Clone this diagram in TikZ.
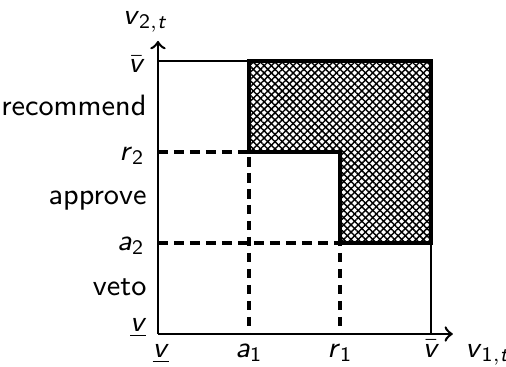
\documentclass[tikz,border=0pt]{standalone}
\usepackage{amsmath}
\usepackage{tikz}
\usetikzlibrary{patterns.meta}
\newcommand{\sfv}{\textsf{\textit{v}}}
\newcommand{\vhi}{$\bar{\mbox{\sfv}}$}
\newcommand{\vlo}{\underline{\sfv}}

\begin{document}
\begin{tikzpicture}[
  x=1cm, y=1cm,
  lbl/.style={font=\fontsize{9.2}{11}\sffamily, inner sep=0pt},
  axis/.style={->, line width=0.8pt},
  thinbox/.style={line width=0.5pt},
  cut/.style={line width=1pt, dash pattern=on 3pt off 2pt},
  hatchA/.style={pattern={Lines[angle=45, distance=1.6pt, line width=0.45pt]}},
  hatchB/.style={pattern={Lines[angle=-45, distance=1.6pt, line width=0.45pt]}},
  region/.style={line width=1.3pt}
]
\useasboundingbox (-1.736,-0.352) rectangle (3.824,3.67);
\coordinate (o) at (0,0);
\coordinate (xend) at (3.24,0);
\coordinate (yend) at (0,3.22);
\coordinate (a1) at (1,0);
\coordinate (r1) at (2,0);
\coordinate (a2) at (0,1);
\coordinate (r2) at (0,2);
\coordinate (hi1) at (3,0);
\coordinate (hi2) at (0,3);

% acceptance region
\fill[hatchA] (1,3) -- (3,3) -- (3,1) -- (2,1) -- (2,2) -- (1,2) -- cycle;
\fill[hatchB] (1,3) -- (3,3) -- (3,1) -- (2,1) -- (2,2) -- (1,2) -- cycle;
\draw[region] (1,3) -- (3,3) -- (3,1) -- (2,1) -- (2,2) -- (1,2) -- cycle;

% box edges
\draw[thinbox] (hi2) -- (1,3);
\draw[thinbox] (hi1) -- (3,1);

% thresholds
\draw[cut] (r2) -- (1,2) -- (a1);
\draw[cut] (a2) -- (2,1) -- (r1);

% axes
\draw[axis] (o) -- (xend);
\draw[axis] (o) -- (yend);

% axis labels
\node[lbl, anchor=base] (ylab) at (-0.14,3.4) {\sfv$_{\textsf{2},\textsf{\textit{t}}}$};
\node[lbl, anchor=base west] (xlab) at (3.37,-0.253) {\sfv$_{\textsf{1},\textsf{\textit{t}}}$};

% ticks on x
\node[lbl, anchor=base] (xlo) at (0.03,-0.253) {\vlo};
\node[lbl, anchor=base] (xa1) at (1,-0.253) {\textit{a}$_{\textsf{1}}$};
\node[lbl, anchor=base] (xr1) at (2,-0.253) {\textit{r}$_{\textsf{1}}$};
\node[lbl, anchor=base] (xhi) at (3,-0.253) {\vhi};

% ticks on y
\node[lbl, anchor=base east] (ylo) at (-0.12,0.03) {\vlo};
\node[lbl, anchor=base east] (ya2) at (-0.14,0.92) {\textit{a}$_{\textsf{2}}$};
\node[lbl, anchor=base east] (yr2) at (-0.14,1.91) {\textit{r}$_{\textsf{2}}$};
\node[lbl, anchor=base east] (yhi) at (-0.14,2.87) {\vhi};

% decisions
\node[lbl, anchor=base east] (veto) at (-0.12,0.42) {veto};
\node[lbl, anchor=base east] (approve) at (-0.12,1.42) {approve};
\node[lbl, anchor=base east] (recommend) at (-0.12,2.4) {recommend};
\end{tikzpicture}
\end{document}
